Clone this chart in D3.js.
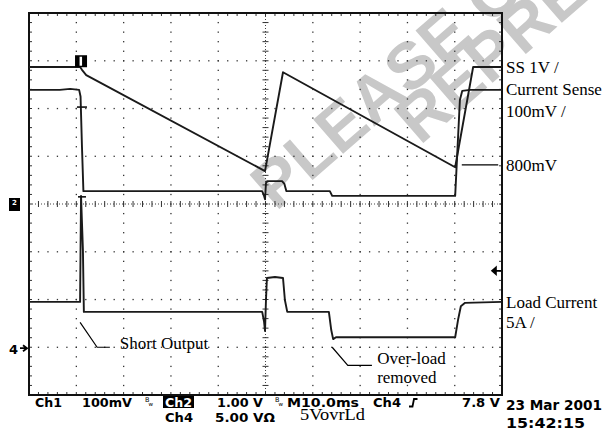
<!DOCTYPE html>
<html>
<head>
<meta charset="utf-8">
<script src="https://cdn.jsdelivr.net/npm/d3@7"></script>
<style>
body { margin: 0; background: #fff; }
svg { display: block; }
</style>
</head>
<body>
<svg id="scope" width="607" height="430"></svg>
<script>
// horizontal: time in ms (M 10.0ms/div), vertical: divisions from screen centre
const ssTime = [0, 10.8, 11.2, 12.1, 49.9, 53.7, 90.1, 93.9, 100];
const ssDiv  = [2.87, 2.87, 2.81, 2.70, 0.69, 2.76, 0.77, 2.87, 2.87];

const csTime = [0, 6.5, 8.7, 10.6, 10.9, 11.2, 11.5, 49.3, 49.7, 49.9, 50.1, 50.4, 53.5, 54.0, 54.4, 63.6, 64.1, 90.1, 91.1, 91.6, 93.2, 100];
const csDiv  = [2.39, 2.39, 2.41, 2.39, 2.25, 1.20, 0.27, 0.27, 0.17, 0.10, 0.44, 0.48, 0.48, 0.42, 0.27, 0.27, 0.17, 0.17, 2.18, 2.37, 2.39, 2.39];

const ldTime = [0, 10.8, 11.0, 11.4, 11.6, 49.3, 49.7, 49.9, 50.1, 50.3, 52.0, 53.7, 54.1, 54.6, 63.4, 63.9, 64.3, 64.9, 90.1, 90.7, 91.3, 92.2, 100];
const ldDiv  = [-2.05, -2.05, 0.17, -0.96, -2.26, -2.26, -2.47, -2.66, -2.01, -1.55, -1.53, -1.55, -2.01, -2.26, -2.26, -2.64, -2.83, -2.79, -2.79, -2.43, -2.14, -2.07, -2.05];

const rightLabels = ['SS 1V /', 'Current Sense', '100mV /', '800mV', 'Load Current', '5A /'];
const statusRow1 = ['Ch1', '100mV', 'Ch2', '1.00 V', 'M10.0ms', 'Ch4', '7.8 V', '23 Mar 2001'];
const statusRow2 = ['Ch4', '5.00 V\u03A9', '5VovrLd', '15:42:15'];

const svg = d3.select('#scope');
const x = d3.scaleLinear().domain([0, 100]).range([29, 502]);
const y = d3.scaleLinear().domain([-4, 4]).range([395, 13]);

// watermark, under everything else
const wm = svg.append('g').attr('fill', '#c8c8c8')
  .attr('font-family', 'Liberation Sans, Arial, sans-serif').attr('font-weight', 'bold').attr('font-size', 66);
wm.append('text').attr('transform', 'translate(276,212) rotate(-41)').text('PLEASE CONTACT');
wm.append('text').attr('transform', 'translate(420,146) rotate(-41)').text('REPRESENTATIVE');

// graticule
const g = svg.append('g');
const minorT = d3.range(0, 100.01, 2);
const minorV = d3.range(-4, 4.01, 0.2);
const majT = d3.range(10, 91, 10).filter(d => d !== 50);
const majV = d3.range(-3, 4, 1).filter(d => d !== 0);

majT.forEach(t => {
  g.selectAll(null).data(minorV).join('rect')
    .attr('x', x(t) - 0.6).attr('y', d => y(d) - 0.6)
    .attr('width', 1.3).attr('height', 1.3).attr('fill', '#333');
});
majV.forEach(v => {
  g.selectAll(null).data(minorT).join('rect')
    .attr('x', d => x(d) - 0.6).attr('y', y(v) - 0.6)
    .attr('width', 1.3).attr('height', 1.3).attr('fill', '#333');
});

// centre cross lines with minor ticks
g.append('line').attr('x1', x(0)).attr('x2', x(100)).attr('y1', y(0)).attr('y2', y(0))
  .attr('stroke', '#444').attr('stroke-width', 1).attr('stroke-dasharray', '1,2');
g.append('line').attr('x1', x(50)).attr('x2', x(50)).attr('y1', y(-4)).attr('y2', y(4))
  .attr('stroke', '#444').attr('stroke-width', 1).attr('stroke-dasharray', '1,2');
g.selectAll(null).data(minorT).join('line')
  .attr('x1', d => x(d)).attr('x2', d => x(d)).attr('y1', y(0) - 3).attr('y2', y(0) + 3)
  .attr('stroke', '#333').attr('stroke-width', 1);
g.selectAll(null).data(minorV).join('line')
  .attr('x1', x(50) - 3).attr('x2', x(50) + 3).attr('y1', d => y(d)).attr('y2', d => y(d))
  .attr('stroke', '#333').attr('stroke-width', 1);

// border ticks
g.selectAll(null).data(minorT).join('line')
  .attr('x1', d => x(d)).attr('x2', d => x(d)).attr('y1', y(4)).attr('y2', y(4) + 3)
  .attr('stroke', '#333');
g.selectAll(null).data(minorT).join('line')
  .attr('x1', d => x(d)).attr('x2', d => x(d)).attr('y1', y(-4)).attr('y2', y(-4) - 3)
  .attr('stroke', '#333');
g.selectAll(null).data(minorV).join('line')
  .attr('x1', x(0)).attr('x2', x(0) + 3).attr('y1', d => y(d)).attr('y2', d => y(d))
  .attr('stroke', '#333');
g.selectAll(null).data(minorV).join('line')
  .attr('x1', x(100)).attr('x2', x(100) - 3).attr('y1', d => y(d)).attr('y2', d => y(d))
  .attr('stroke', '#333');

g.append('rect').attr('x', x(0)).attr('y', y(4)).attr('width', x(100) - x(0)).attr('height', y(-4) - y(4))
  .attr('fill', 'none').attr('stroke', '#111').attr('stroke-width', 2);

// traces
const line = d3.line().x(d => x(d[0])).y(d => y(d[1]));
const traces = [d3.zip(ssTime, ssDiv), d3.zip(csTime, csDiv), d3.zip(ldTime, ldDiv)];
svg.append('g').selectAll('path').data(traces).join('path')
  .attr('d', line).attr('fill', 'none').attr('stroke', '#1a1a1a')
  .attr('stroke-width', 1.9).attr('stroke-linejoin', 'round');

// small trigger crosses on ch1 drop
svg.append('line').attr('x1', x(11.2) - 5).attr('x2', x(11.2) + 5).attr('y1', y(2.03)).attr('y2', y(2.03))
  .attr('stroke', '#111').attr('stroke-width', 1.6);
svg.append('line').attr('x1', x(11.2) - 4).attr('x2', x(11.2) + 4).attr('y1', y(0.15)).attr('y2', y(0.15))
  .attr('stroke', '#111').attr('stroke-width', 1.6);

// markers
svg.append('rect').attr('x', x(11) - 6).attr('y', y(2.99) - 6).attr('width', 12).attr('height', 12).attr('fill', '#000');
svg.append('rect').attr('x', x(10.9) - 1).attr('y', y(2.99) - 4.5).attr('width', 2.5).attr('height', 9).attr('fill', '#fff');
svg.append('rect').attr('x', 9).attr('y', y(0) - 6).attr('width', 11).attr('height', 13).attr('fill', '#000');
svg.append('text').attr('x', 14.5).attr('y', y(0) + 1).attr('text-anchor', 'middle')
  .attr('font-family', 'DejaVu Sans, sans-serif').attr('font-size', 7).attr('font-weight', 'bold').attr('fill', '#fff').text('2');
svg.append('text').attr('x', 9).attr('y', y(-3.02) + 5.5)
  .attr('font-family', 'DejaVu Sans, sans-serif').attr('font-size', 13).attr('font-weight', 'bold').text('4');
svg.append('path').attr('d', `M20,${y(-3.02)}H26M23,${y(-3.02) - 3}L27,${y(-3.02)}L23,${y(-3.02) + 3}`)
  .attr('fill', 'none').attr('stroke', '#000').attr('stroke-width', 1.8);
svg.append('path').attr('d', `M${x(100) - 1},${y(-1.4)}H${x(100) - 8}M${x(100) - 6},${y(-1.4) - 3.5}L${x(100) - 10},${y(-1.4)}L${x(100) - 6},${y(-1.4) + 3.5}Z`)
  .attr('fill', '#000').attr('stroke', '#000').attr('stroke-width', 1.6);

// annotations
const serif = 'Liberation Serif, Times New Roman, serif';
const ann = svg.append('g').attr('font-family', serif).attr('font-size', 17).attr('fill', '#000');
const rightY = [2.74, 2.28, 1.82, 0.69, -2.18, -2.60];
ann.selectAll('text.r').data(rightLabels).join('text').attr('class', 'r')
  .attr('x', x(100) + 4).attr('y', (d, i) => y(rightY[i])).text(d => d);
ann.append('line').attr('x1', x(91.5)).attr('x2', x(99.2)).attr('y1', y(0.82)).attr('y2', y(0.82))
  .attr('stroke', '#000').attr('stroke-width', 1.3);
ann.append('text').attr('x', x(19.2)).attr('y', y(-3.04)).text('Short Output');
ann.append('path').attr('d', `M${x(10.8)},${y(-2.48)}L${x(14.4)},${y(-3.00)}H${x(17.1)}`)
  .attr('fill', 'none').attr('stroke', '#000').attr('stroke-width', 1.2);
ann.append('text').attr('x', x(73.6)).attr('y', y(-3.35)).text('Over-load');
ann.append('text').attr('x', x(73.6)).attr('y', y(-3.75)).text('removed');
ann.append('path').attr('d', `M${x(64.1)},${y(-3.0)}L${x(67.4)},${y(-3.38)}H${x(72.5)}`)
  .attr('fill', 'none').attr('stroke', '#000').attr('stroke-width', 1.2);

// status line
const st = svg.append('g').attr('font-family', 'DejaVu Sans, sans-serif').attr('font-size', 13)
  .attr('font-weight', 'bold').attr('fill', '#000');
const row1X = [35, 82, 165, 217, 287, 373, 462, 506];
const row1W = [27, 50, 27, 46, 72, 28, 38, 96];
st.append('rect').attr('x', 163).attr('y', 396).attr('width', 31).attr('height', 12).attr('fill', '#000');
st.selectAll('text.a').data(statusRow1).join('text').attr('class', 'a')
  .attr('x', (d, i) => row1X[i]).attr('y', (d, i) => i === 7 ? 410 : 407)
  .attr('textLength', (d, i) => row1W[i]).attr('lengthAdjust', 'spacingAndGlyphs')
  .attr('fill', (d, i) => i === 2 ? '#fff' : '#000')
  .attr('font-size', (d, i) => i === 7 ? 14 : 13)
  .text(d => d);
[145, 275].forEach(bx => {
  st.append('text').attr('x', bx).attr('y', 402).attr('font-size', 6.5).attr('font-weight', 'normal').text('B');
  st.append('text').attr('x', bx + 3.5).attr('y', 406).attr('font-size', 5.5).attr('font-weight', 'normal').text('w');
});
st.append('path').attr('d', 'M409,406.5H412.5L414,399H417.5').attr('fill', 'none').attr('stroke', '#000').attr('stroke-width', 1.8);
const row2X = [165, 215, 300, 506];
const row2W = [28, 60, 65, 79];
st.selectAll('text.b').data(statusRow2).join('text').attr('class', 'b')
  .attr('x', (d, i) => row2X[i]).attr('y', (d, i) => i === 3 ? 428 : (i === 2 ? 420 : 422))
  .attr('textLength', (d, i) => row2W[i]).attr('lengthAdjust', 'spacingAndGlyphs')
  .attr('font-family', (d, i) => i === 2 ? serif : null)
  .attr('font-weight', (d, i) => i === 2 ? 'normal' : 'bold')
  .attr('font-size', (d, i) => i === 2 ? 17 : (i === 3 ? 14 : 13))
  .text(d => d);
</script>
</body>
</html>
